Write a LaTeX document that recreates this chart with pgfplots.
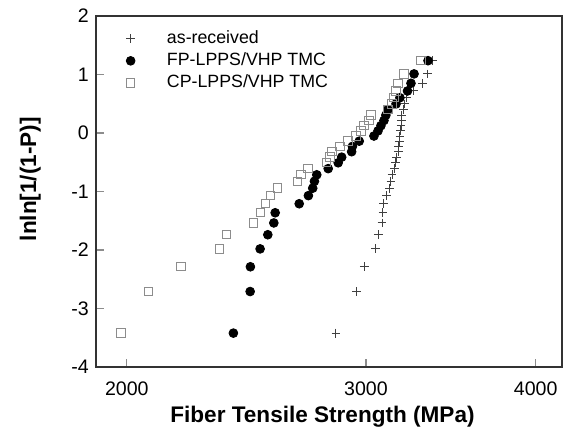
\documentclass[border=0pt]{standalone}
\usepackage{fontspec}
\setmainfont{Liberation Sans}
\usepackage{pgfplots}
\pgfplotsset{compat=1.18}
\usepackage{pgfplotstable}

% Weibull plot, rank i of 30, P = i/31
\pgfplotstableread{
x y
2851 -3.4176
2953 -2.7077
2991 -2.2850
3050 -1.9795
3063 -1.7379
3083 -1.5366
3088 -1.3628
3091 -1.2090
3108 -1.0702
3122 -0.9430
3130 -0.8250
3136 -0.7143
3150 -0.6095
3156 -0.5096
3160 -0.4134
3169 -0.3203
3170 -0.2295
3175 -0.1404
3178 -0.0523
3182 0.0354
3184 0.1235
3186 0.2125
3188 0.3035
3196 0.3975
3205 0.4960
3215 0.6013
3251 0.7167
3304 0.8482
3332 1.0083
3361 1.2337
}\asrec

\pgfplotstableread{
x y
2396 -3.4176
2465 -2.7077
2466 -2.2850
2507 -1.9795
2540 -1.7379
2566 -1.5366
2572 -1.3628
2679 -1.2090
2721 -1.0702
2741 -0.9430
2749 -0.8250
2760 -0.7143
2814 -0.6095
2862 -0.5096
2879 -0.4134
2928 -0.3203
2932 -0.2295
2966 -0.1404
3041 -0.0523
3062 0.0354
3077 0.1235
3093 0.2125
3103 0.3035
3114 0.3975
3157 0.4960
3178 0.6013
3219 0.7167
3238 0.8482
3255 1.0083
3333 1.2337
}\fplpps

\pgfplotstableread{
x y
1980 -3.4176
2075 -2.7077
2192 -2.2850
2340 -1.9795
2369 -1.7379
2479 -1.5366
2510 -1.3628
2531 -1.2090
2551 -1.0702
2583 -0.9430
2671 -0.8250
2687 -0.7143
2719 -0.6095
2807 -0.5096
2823 -0.4134
2832 -0.3203
2871 -0.2295
2910 -0.1404
2950 -0.0523
2975 0.0354
2990 0.1235
3015 0.2125
3026 0.3035
3114 0.3975
3135 0.4960
3146 0.6013
3157 0.7167
3167 0.8482
3200 1.0083
3293 1.2337
}\cplpps

\begin{document}
\begin{tikzpicture}
\begin{axis}[scale only axis, width=233.5pt, height=176pt,
  xmode=log, xmin=1898, xmax=4184, ymin=-4, ymax=2,
  xtick={2000,3000,4000}, xticklabels={2000,3000,4000},
  ytick={-4,-3,-2,-1,0,1,2}, xminorticks=false,
  tick align=inside, xtick pos=bottom, ytick pos=left,
  major tick length=4pt, tick style={black!45, line width=0.6pt},
  axis line style={black!80, line width=0.9pt},
  /pgf/number format/assume math mode=true,
  ticklabel style={font=\fontsize{9.8}{11}\selectfont},
  xticklabel style={yshift=-4pt},
  xlabel={Fiber Tensile Strength (MPa)},
  ylabel={lnln[1/(1-P)]},
  label style={font=\fontsize{11.3}{13}\selectfont\bfseries},
  xlabel style={at={(axis description cs:0.486,-0.142)}, anchor=center},
  ylabel style={at={(axis description cs:-0.141,0.535)}, anchor=center, rotate=0},
  legend cell align=left,
  legend style={draw=none, fill=none, inner sep=0pt, at={(rel axis cs:0,1)},
    anchor=north west, xshift=15pt, yshift=-7pt, row sep=2.6pt,
    font=\fontsize{8.9}{10}\selectfont,
    nodes={inner xsep=3pt, inner ysep=0pt, text height=6.5pt, text depth=2pt},
    /tikz/every odd column/.append style={column sep=13pt}},
  clip=false]
\addplot[only marks, mark=+, mark size=2.2pt, black!75, line width=0.5pt] table {\asrec};
\addlegendentry{as-received}
\addplot[only marks, mark=*, mark size=2.2pt, black] table {\fplpps};
\addlegendentry{FP-LPPS/VHP TMC}
\addplot[only marks, mark=square, mark size=2.1pt, black!45, line width=0.5pt] table {\cplpps};
\addlegendentry{CP-LPPS/VHP TMC}
\path (rel axis cs:-0.2056,-0.2074) rectangle (rel axis cs:1.002,1.045);
\end{axis}
\end{tikzpicture}
\end{document}
